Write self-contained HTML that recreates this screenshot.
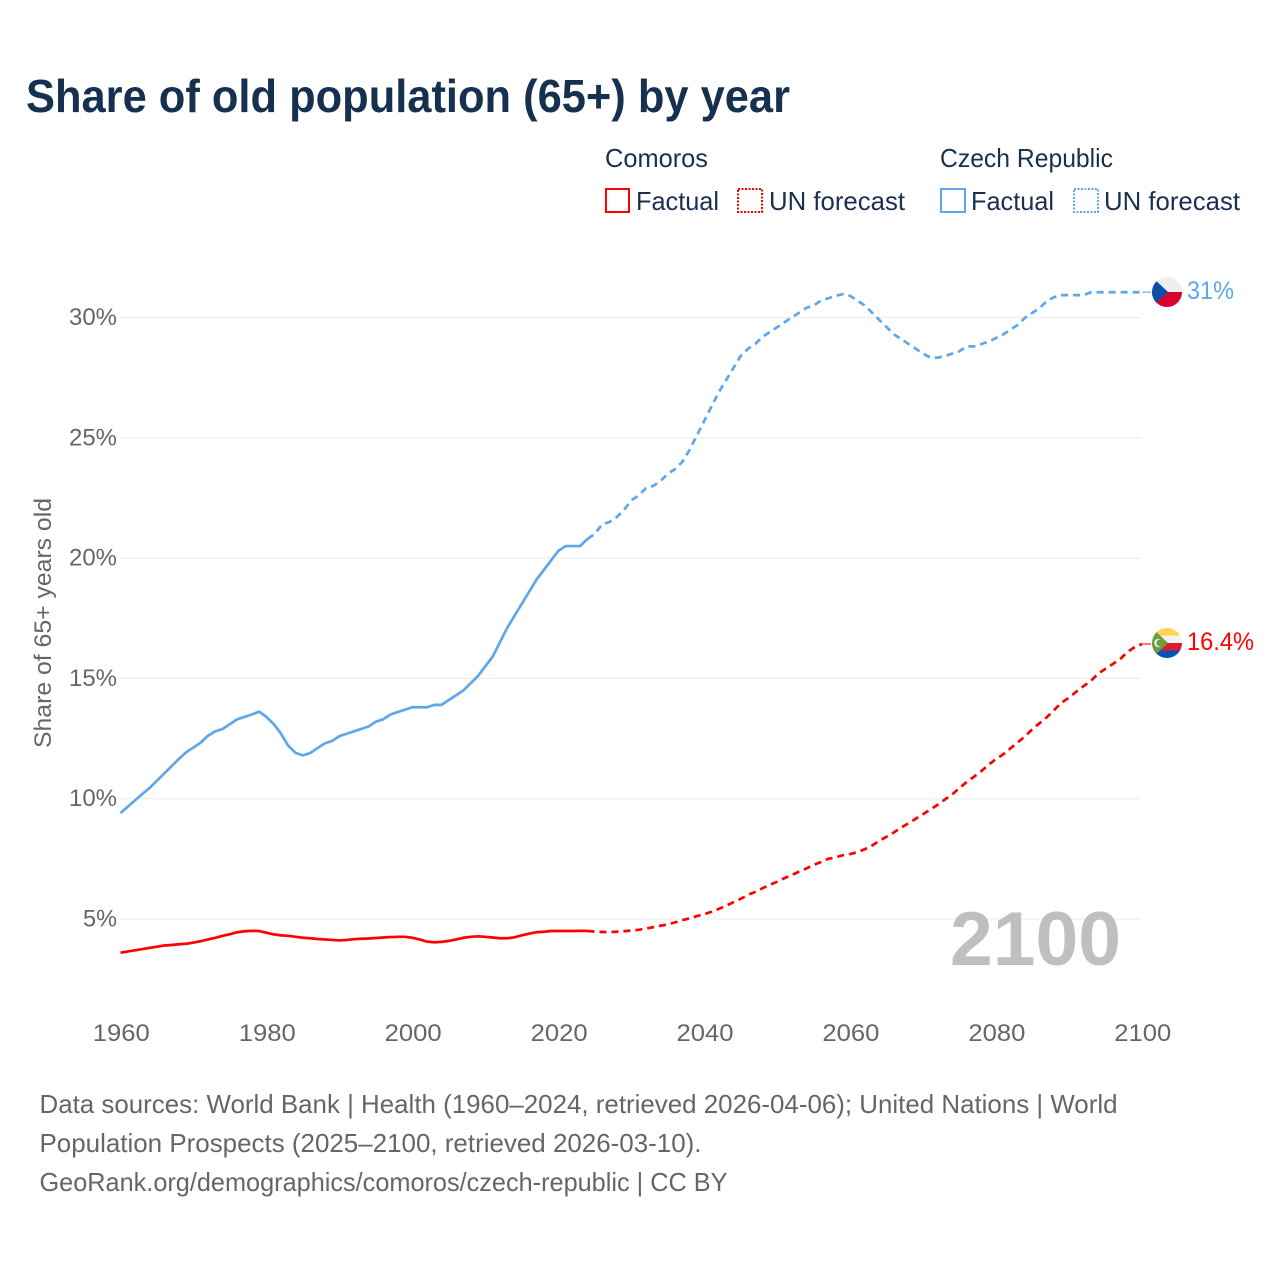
<!DOCTYPE html>
<html lang="en">
<head>
<meta charset="utf-8">
<title>Share of old population (65+) by year</title>
<style>
html,body{margin:0;padding:0;background:#fff;}
svg{display:block;font-family:"Liberation Sans",sans-serif;}
</style>
</head>
<body>
<svg id="chart" xmlns="http://www.w3.org/2000/svg" width="1280" height="1280" viewBox="0 0 1280 1280">
  <defs>
    <clipPath id="flag-clip-cz"><circle cx="1167" cy="292" r="15"/></clipPath>
    <clipPath id="flag-clip-km"><circle cx="1167" cy="643" r="15"/></clipPath>
  </defs>
  <rect width="1280" height="1280" fill="#fff"/>
  <text x="26" y="112" font-size="46" font-weight="700" fill="#16304f" textLength="764" lengthAdjust="spacingAndGlyphs">Share of old population (65+) by year</text>

  <g font-size="26" fill="#1a3050">
    <text x="605" y="167" textLength="103" lengthAdjust="spacingAndGlyphs">Comoros</text>
    <text x="940" y="167" textLength="173" lengthAdjust="spacingAndGlyphs">Czech Republic</text>
    <rect x="606" y="189" width="23" height="23" fill="none" stroke="#ff0000" stroke-width="2"/>
    <text x="636" y="210" textLength="83" lengthAdjust="spacingAndGlyphs">Factual</text>
    <rect x="738" y="189" width="24" height="23" fill="none" stroke="#ff0000" stroke-width="2" stroke-dasharray="2 1.5"/>
    <text x="769" y="210" textLength="136" lengthAdjust="spacingAndGlyphs">UN forecast</text>
    <rect x="941" y="189" width="24" height="23" fill="none" stroke="#5ea7ea" stroke-width="2"/>
    <text x="971" y="210" textLength="83" lengthAdjust="spacingAndGlyphs">Factual</text>
    <rect x="1074" y="189" width="24" height="23" fill="none" stroke="#5ea7ea" stroke-width="2" stroke-dasharray="2 1.5"/>
    <text x="1104" y="210" textLength="136" lengthAdjust="spacingAndGlyphs">UN forecast</text>
  </g>

  <g id="grid"></g>
  <g id="y-ticks"></g>
  <g id="x-ticks"></g>
  <text transform="translate(51,748) rotate(-90)" font-size="24" fill="#666" textLength="250" lengthAdjust="spacingAndGlyphs">Share of 65+ years old</text>
  <text x="950" y="965" font-size="76" font-weight="700" fill="#bfbfbf" textLength="171" lengthAdjust="spacingAndGlyphs">2100</text>

  <g id="series"></g>

  <g clip-path="url(#flag-clip-cz)">
    <rect x="1152" y="277" width="30" height="15" fill="#eeeeee"/>
    <rect x="1152" y="292" width="30" height="15" fill="#d7052c"/>
    <polygon points="1151,276 1168,292 1151,308" fill="#0f4fa8"/>
  </g>
  <text x="1187" y="299" font-size="25" fill="#5ea7ea" textLength="47" lengthAdjust="spacingAndGlyphs">31%</text>

  <g clip-path="url(#flag-clip-km)">
    <rect x="1152" y="628" width="30" height="8" fill="#fdd54f"/>
    <rect x="1152" y="635.5" width="30" height="8" fill="#f2f2f2"/>
    <rect x="1152" y="643" width="30" height="7.5" fill="#d81a36"/>
    <rect x="1152" y="650.5" width="30" height="8" fill="#0a4fb4"/>
    <polygon points="1151,627 1168,643 1151,659" fill="#6a9f3c"/>
    <circle cx="1158.5" cy="643" r="4.2" fill="#f2f2f2"/>
    <circle cx="1160" cy="643" r="3.6" fill="#6a9f3c"/>
  </g>
  <text x="1187" y="650" font-size="25" fill="#ff0000" textLength="67" lengthAdjust="spacingAndGlyphs">16.4%</text>

  <g font-size="26" fill="#666">
    <text x="39.5" y="1113" textLength="1078" lengthAdjust="spacingAndGlyphs">Data sources: World Bank | Health (1960–2024, retrieved 2026-04-06); United Nations | World</text>
    <text x="39.5" y="1152" textLength="662" lengthAdjust="spacingAndGlyphs">Population Prospects (2025–2100, retrieved 2026-03-10).</text>
    <text x="39.5" y="1191" textLength="688" lengthAdjust="spacingAndGlyphs">GeoRank.org/demographics/comoros/czech-republic | CC BY</text>
  </g>
</svg>
<script>
const firstYear = 1960;
const lastFactualYear = 2024;
const xTickYears = [1960, 1980, 2000, 2020, 2040, 2060, 2080, 2100];
const yTickValues = [5, 10, 15, 20, 25, 30];
const comorosValues = [
  3.6,3.65,3.7,3.75,3.8,3.85,3.9,3.92,3.95,3.97,
  4.02,4.08,4.15,4.22,4.3,4.37,4.45,4.49,4.51,4.5,
  4.43,4.36,4.32,4.3,4.26,4.22,4.2,4.17,4.15,4.13,
  4.11,4.13,4.16,4.18,4.19,4.21,4.23,4.25,4.26,4.26,
  4.22,4.15,4.06,4.03,4.05,4.09,4.15,4.22,4.26,4.28,
  4.26,4.23,4.2,4.2,4.24,4.32,4.39,4.45,4.47,4.5,
  4.5,4.5,4.5,4.51,4.5,4.48,4.46,4.46,4.47,4.49,
  4.52,4.55,4.6,4.66,4.72,4.78,4.86,4.95,5.03,5.12,
  5.2,5.3,5.42,5.55,5.7,5.84,6.0,6.13,6.28,6.42,
  6.55,6.7,6.83,6.97,7.1,7.25,7.37,7.5,7.56,7.65,
  7.7,7.78,7.9,8.05,8.25,8.42,8.6,8.8,8.98,9.17,
  9.36,9.55,9.75,9.97,10.18,10.45,10.7,10.92,11.15,11.42,
  11.65,11.85,12.1,12.35,12.6,12.9,13.15,13.4,13.7,14.0,
  14.2,14.45,14.68,14.9,15.2,15.4,15.6,15.8,16.1,16.3,
  16.43
];
const czechValues = [
  9.4,9.67,9.93,10.2,10.45,10.75,11.05,11.35,11.65,11.93,
  12.13,12.33,12.62,12.8,12.9,13.1,13.3,13.4,13.5,13.62,
  13.4,13.1,12.7,12.2,11.9,11.8,11.9,12.1,12.3,12.4,
  12.6,12.7,12.8,12.9,13.0,13.2,13.3,13.5,13.6,13.7,
  13.8,13.8,13.8,13.9,13.9,14.1,14.3,14.5,14.8,15.1,
  15.5,15.9,16.5,17.1,17.6,18.1,18.6,19.1,19.5,19.9,
  20.3,20.5,20.5,20.5,20.8,21.0,21.4,21.5,21.7,22.0,
  22.4,22.6,22.9,23.0,23.2,23.5,23.7,24.0,24.5,25.1,
  25.7,26.3,26.9,27.4,27.9,28.4,28.7,28.9,29.2,29.4,
  29.6,29.8,30.0,30.2,30.4,30.5,30.7,30.8,30.9,30.97,
  30.9,30.7,30.5,30.2,29.9,29.6,29.3,29.1,28.9,28.7,
  28.5,28.33,28.33,28.4,28.5,28.6,28.8,28.8,28.9,29.0,
  29.15,29.3,29.5,29.7,30.0,30.2,30.4,30.7,30.85,30.93,
  30.93,30.93,30.93,31.05,31.05,31.05,31.05,31.05,31.05,31.05,
  31.05
];

const SVG_NS = 'http://www.w3.org/2000/svg';
const xScale = function (year) { return 120.5 + (year - 1960) * (1142 - 120.5) / 140; };
const yScale = function (value) { return 919 - (value - 5) * (919 - 317.5) / 25; };

const gridGroup = document.getElementById('grid');
const yTickGroup = document.getElementById('y-ticks');
const xTickGroup = document.getElementById('x-ticks');
const seriesGroup = document.getElementById('series');

yTickValues.forEach(function (value) {
  const line = document.createElementNS(SVG_NS, 'line');
  line.setAttribute('x1', 120);
  line.setAttribute('x2', 1141);
  line.setAttribute('y1', yScale(value));
  line.setAttribute('y2', yScale(value));
  line.setAttribute('stroke', '#ebebeb');
  line.setAttribute('stroke-width', 1);
  
  
  gridGroup.appendChild(line);

  const label = document.createElementNS(SVG_NS, 'text');
  label.textContent = value + '%';
  label.setAttribute('x', 117);
  label.setAttribute('y', yScale(value) + 7.5);
  label.setAttribute('text-anchor', 'end');
  label.setAttribute('font-size', 24);
  label.setAttribute('fill', '#666');
  label.setAttribute('textLength', value < 10 ? 34 : 48);
  label.setAttribute('lengthAdjust', 'spacingAndGlyphs');
  
  
  yTickGroup.appendChild(label);
});

xTickYears.forEach(function (year) {
  const label = document.createElementNS(SVG_NS, 'text');
  label.textContent = String(year);
  label.setAttribute('x', xScale(year) + 0.8);
  label.setAttribute('y', 1041);
  label.setAttribute('text-anchor', 'middle');
  label.setAttribute('font-size', 24);
  label.setAttribute('fill', '#666');
  label.setAttribute('textLength', 57);
  label.setAttribute('lengthAdjust', 'spacingAndGlyphs');
  
  
  xTickGroup.appendChild(label);
});

function pathFor(values, fromYear, toYear) {
  const pts = [];
  for (let y = fromYear; y <= toYear; y++) {
    pts.push(xScale(y).toFixed(2) + ',' + yScale(values[y - firstYear]).toFixed(2));
  }
  return 'M' + pts.join('L');
}

function drawSeries(values, color, key) {
  const lastYear = firstYear + values.length - 1;

  const solid = document.createElementNS(SVG_NS, 'path');
  solid.setAttribute('d', pathFor(values, firstYear, lastFactualYear));
  solid.setAttribute('fill', 'none');
  solid.setAttribute('stroke', color);
  solid.setAttribute('stroke-width', 2.7);
  solid.setAttribute('stroke-linejoin', 'round');
  
  
  seriesGroup.appendChild(solid);

  const dashed = document.createElementNS(SVG_NS, 'path');
  dashed.setAttribute('d', pathFor(values, lastFactualYear, lastYear));
  dashed.setAttribute('fill', 'none');
  dashed.setAttribute('stroke', color);
  dashed.setAttribute('stroke-width', 2.7);
  dashed.setAttribute('stroke-dasharray', '7 5');
  
  
  seriesGroup.appendChild(dashed);

  const leader = document.createElementNS(SVG_NS, 'line');
  leader.setAttribute('x1', xScale(lastYear));
  leader.setAttribute('x2', 1151);
  leader.setAttribute('y1', yScale(values[values.length - 1]));
  leader.setAttribute('y2', yScale(values[values.length - 1]));
  leader.setAttribute('stroke', color);
  leader.setAttribute('stroke-width', 1.5);
  leader.setAttribute('stroke-opacity', 0.7);
  
  
  seriesGroup.appendChild(leader);
}

drawSeries(czechValues, '#5ea7ea', 'czech-republic');
drawSeries(comorosValues, '#ff0000', 'comoros');
</script>
</body>
</html>
